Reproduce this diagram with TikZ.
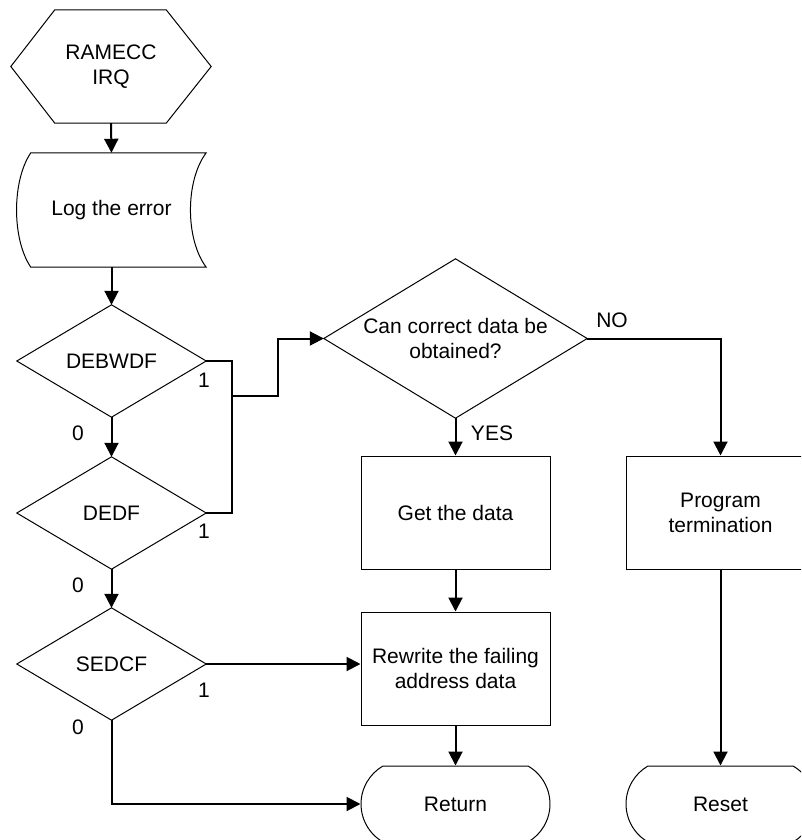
\documentclass[tikz,border=0pt]{standalone}
\usepackage{fontspec}
\setmainfont{Liberation Sans}
\usetikzlibrary{arrows.meta,shapes.misc}

\begin{document}
\begin{tikzpicture}[x=1pt,y=-1pt,
    every node/.style={font=\fontsize{21}{25}\selectfont,inner sep=0pt,align=center},
    flag/.style={minimum width=189pt,minimum height=112pt},
    box/.style={draw,line width=1pt,minimum width=189pt,minimum height=113pt},
    term/.style={draw,line width=1pt,rounded rectangle,rounded rectangle arc length=120,minimum width=189pt,minimum height=76pt},
    outline/.style={line width=1pt},
    wire/.style={line width=2pt},
    link/.style={line width=2pt,-{Triangle[length=14pt,width=14pt]}}]
    \useasboundingbox (0,0) rectangle (801,840);
    \clip (0,0) rectangle (801,840);

    % Shapes
    \node[flag,minimum width=200pt,minimum height=113pt] (start) at (111,66.5) {RAMECC\\IRQ};
    \node[flag,minimum height=114pt] (log) at (111.5,210) {Log the error};
    \node[flag] (debwdf) at (111.5,361) {DEBWDF};
    \node[flag] (dedf) at (111.5,513) {DEDF};
    \node[flag] (sedcf) at (111.5,664) {SEDCF};
    \node[flag,minimum width=263pt,minimum height=159pt] (obtain) at (455.5,338.5) {Can correct data be\\obtained?};
    \node[box] (getdata) at (455.5,512.5) {Get the data};
    \node[box] (rewrite) at (455.5,668.5) {Rewrite the failing\\address data};
    \node[box] (progterm) at (720.5,512.5) {Program\\termination};
    \node[term] (return) at (455.5,804) {Return};
    \node[term] (reset) at (720.5,804) {Reset};

    % Outlines
    \draw[outline] (start.west) -- ([xshift=44pt]start.north west) -- ([xshift=-45pt]start.north east)
        -- (start.east) -- ([xshift=-45pt]start.south east) -- ([xshift=44pt]start.south west) -- cycle;
    \draw[outline] ([xshift=14pt]log.north west) -- (log.north east)
        .. controls ([xshift=-21pt,yshift=-28pt]log.north east) and ([xshift=-21pt,yshift=28pt]log.south east) .. (log.south east)
        -- ([xshift=14pt]log.south west)
        .. controls ([xshift=-5pt,yshift=28pt]log.south west) and ([xshift=-5pt,yshift=-28pt]log.north west) .. cycle;
    \foreach \d in {debwdf,dedf,sedcf,obtain}{
    \draw[outline] (\d.north) -- (\d.east) -- (\d.south) -- (\d.west) -- cycle;
    }

    % Connectors
    \coordinate (bus) at (232,396);
    \coordinate (knee) at (278,396);
    \draw[link] (start.south) -- (log.north);
    \draw[link] (log.south) -- (debwdf.north);
    \draw[link] (debwdf.south) -- (dedf.north);
    \draw[link] (dedf.south) -- (sedcf.north);
    \draw[wire] (debwdf.east) -| (bus) |- (dedf.east);
    \draw[link] (bus) -- (knee) |- (obtain.west);
    \draw[link] (sedcf.east) -- (rewrite.west |- sedcf.east);
    \draw[link] (sedcf.south) |- (return.west);
    \draw[link] (obtain.south) -- (getdata.north);
    \draw[link] (obtain.east) -| (progterm.north);
    \draw[link] (getdata.south) -- (rewrite.north);
    \draw[link] (rewrite.south) -- (return.north);
    \draw[link] (progterm.south) -- (reset.north);

    % Labels
    \node (zeroa) at (78,433) {0};
    \node (zerob) at (78,585) {0};
    \node (zeroc) at (78,727) {0};
    \node (onea) at (204,380) {1};
    \node (oneb) at (204,531) {1};
    \node (onec) at (204,690) {1};
    \node (yes) at (492,433) {YES};
    \node (no) at (612,320) {NO};
\end{tikzpicture}
\end{document}
